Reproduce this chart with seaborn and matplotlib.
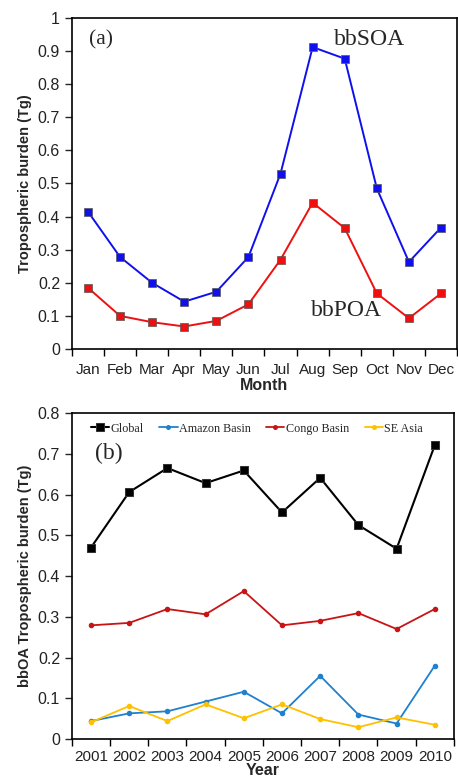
import matplotlib
matplotlib.use("Agg")
import matplotlib.pyplot as plt
import matplotlib.ticker as mticker
import numpy as np
import pandas as pd
import seaborn as sns

# panel (a) monthly burden
months = ['Jan', 'Feb', 'Mar', 'Apr', 'May', 'Jun', 'Jul', 'Aug', 'Sep', 'Oct', 'Nov', 'Dec']
bbsoa = [0.415, 0.278, 0.200, 0.143, 0.173, 0.278, 0.530, 0.912, 0.877, 0.485, 0.263, 0.367]
bbpoa = [0.185, 0.100, 0.081, 0.068, 0.085, 0.135, 0.270, 0.442, 0.365, 0.168, 0.093, 0.168]

# panel (b) yearly burden
years = ['2001', '2002', '2003', '2004', '2005', '2006', '2007', '2008', '2009', '2010']
global_oa = [0.470, 0.606, 0.665, 0.628, 0.659, 0.556, 0.641, 0.525, 0.467, 0.721]
amazon = [0.044, 0.063, 0.068, 0.092, 0.116, 0.063, 0.155, 0.060, 0.038, 0.180]
congo = [0.279, 0.285, 0.319, 0.306, 0.363, 0.279, 0.290, 0.309, 0.270, 0.319]
se_asia = [0.041, 0.081, 0.044, 0.085, 0.051, 0.085, 0.049, 0.029, 0.053, 0.035]

sns.set_theme(style="ticks")
plt.rcParams['font.family'] = ['Liberation Sans', 'DejaVu Sans']
serif = ['Liberation Serif', 'DejaVu Serif']

fig = plt.figure(figsize=(4.58, 7.78), dpi=100)
ax1 = fig.add_axes([0.157, 0.5514, 0.841, 0.4255])
ax2 = fig.add_axes([0.157, 0.0501, 0.834, 0.419])


def style_cat_axis(ax, labels, ylim, ystep, pad=10):
    n = len(labels)
    ax.set_xlim(-0.5, n - 0.5)
    ax.set_ylim(*ylim)
    ax.xaxis.set_major_locator(mticker.FixedLocator(np.arange(-0.5, n, 1.0)))
    ax.xaxis.set_major_formatter(mticker.NullFormatter())
    ax.xaxis.set_minor_locator(mticker.FixedLocator(np.arange(n)))
    ax.xaxis.set_minor_formatter(mticker.FixedFormatter(labels))
    ax.tick_params(axis='x', which='major', direction='out', length=5, width=1, colors='black')
    ax.tick_params(axis='x', which='minor', length=0, labelsize=11, pad=pad, labelcolor='#222222')
    ax.yaxis.set_major_locator(mticker.MultipleLocator(ystep))
    ax.yaxis.set_major_formatter(mticker.FuncFormatter(lambda v, p: f"{v:g}"))
    ax.tick_params(axis='y', direction='out', length=5, width=1, labelsize=11.5, labelcolor='#222222')
    for s in ax.spines.values():
        s.set_visible(True)
        s.set_color('black')
        s.set_linewidth(1.2)


# panel (a)
xm = np.arange(len(months))
df_a = pd.DataFrame({'x': np.concatenate([xm, xm]),
                     'val': bbsoa + bbpoa,
                     'series': ['bbSOA'] * 12 + ['bbPOA'] * 12})
sns.lineplot(data=df_a, x='x', y='val', hue='series', palette={'bbSOA': '#1010ee', 'bbPOA': '#ee1010'},
             marker='s', markersize=5.5, markeredgecolor='#555555', markeredgewidth=0.5,
             linewidth=1.4, legend=False, ax=ax1)
style_cat_axis(ax1, months, (0, 1), 0.1)
ax1.set_xlabel('Month', fontsize=11.5, fontweight='bold', labelpad=1)
ax1.set_ylabel('Tropospheric burden (Tg)', fontsize=10.5, fontweight='bold', labelpad=4)
ax1.text(0.045, 0.935, '(a)', transform=ax1.transAxes, fontsize=15.5, family=serif, va='center')
ax1.text(0.68, 0.935, 'bbSOA', transform=ax1.transAxes, fontsize=17, family=serif, va='center')
ax1.text(0.62, 0.115, 'bbPOA', transform=ax1.transAxes, fontsize=17, family=serif, va='center')

# panel (b)
xy = np.arange(len(years))
sns.lineplot(x=xy, y=global_oa, color='black', marker='s', markersize=6, linewidth=1.5,
             markeredgecolor='#333333', label='Global', ax=ax2)
sns.lineplot(x=xy, y=amazon, color='#1f80cf', marker='o', markersize=4, linewidth=1.3,
             markeredgewidth=0, label='Amazon Basin', ax=ax2)
sns.lineplot(x=xy, y=congo, color='#c81414', marker='o', markersize=4, linewidth=1.3,
             markeredgewidth=0, label='Congo Basin', ax=ax2)
sns.lineplot(x=xy, y=se_asia, color='#ffc000', marker='o', markersize=4, linewidth=1.3,
             markeredgewidth=0, label='SE Asia', ax=ax2)
style_cat_axis(ax2, years, (0, 0.8), 0.1, pad=8)
ax2.set_xlabel('Year', fontsize=11.5, fontweight='bold', labelpad=-1)
ax2.set_ylabel('bbOA Tropospheric burden (Tg)', fontsize=10.5, fontweight='bold', labelpad=4)
ax2.text(0.06, 0.877, '(b)', transform=ax2.transAxes, fontsize=17, family=serif, va='center')
ax2.legend(loc='upper left', bbox_to_anchor=(0.025, 1.0), ncol=4, frameon=False,
           prop={'family': serif, 'size': 8.7}, handlelength=1.5, handletextpad=0.1,
           columnspacing=1.3, borderaxespad=0.4, markerscale=0.9)

fig.savefig('out.png', dpi=100)
